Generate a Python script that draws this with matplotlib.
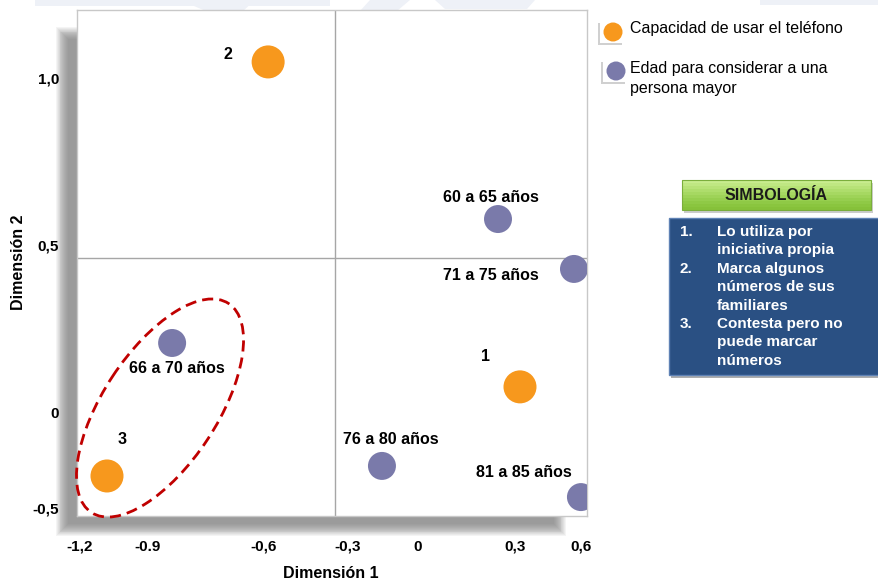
import matplotlib
matplotlib.use("Agg")
import matplotlib.pyplot as plt
from matplotlib.patches import Rectangle, Ellipse, Polygon
from matplotlib.transforms import Affine2D

plt.rcParams['font.family'] = ['Liberation Sans', 'DejaVu Sans']

# ---------------- data ----------------
phone_labels = ["1", "2", "3"]
phone_x = [0.381, -0.524, -1.103]
phone_y = [0.078, 1.048, -0.188]

age_labels = ["60 a 65 años", "71 a 75 años", "66 a 70 años", "76 a 80 años", "81 a 85 años"]
age_x = [0.302, 0.575, -0.869, -0.115, 0.600]
age_y = [0.579, 0.430, 0.209, -0.158, -0.251]

xtick_labels = ["-1,2", "-0.9", "-0,6", "-0,3", "0", "0,3", "0,6"]
xtick_vals = [-1.2, -0.956, -0.539, -0.237, 0.014, 0.363, 0.600]
ytick_labels = ["1,0", "0,5", "0", "-0,5"]
ytick_vals = [1.0, 0.501, 0.0, -0.284]

cross_x = -0.284
cross_y = 0.463

legend_labels = ["Capacidad de usar el teléfono", "Edad para considerar a una\npersona mayor"]
simb_items = [("1.", "Lo utiliza por\niniciativa propia"),
              ("2.", "Marca algunos\nnúmeros de sus\nfamiliares"),
              ("3.", "Contesta pero no\npuede marcar\nnúmeros")]

ORANGE = "#F7981D"
PURPLE = "#7A7AAA"

W, H = 879, 583
fig = plt.figure(figsize=(W / 100, H / 100), dpi=100)
fig.patch.set_facecolor("white")

def fx(px):
    return px / W

def fy(py):
    return 1 - py / H

# pixel (top-left origin) -> figure transform
pix = Affine2D().scale(1.0 / W, -1.0 / H).translate(0, 1) + fig.transFigure

# faint watermark at top
wm = "#EEF1F7"
for pts in [[(35, 0), (330, 0), (330, 6), (35, 6)],
            [(180, 0), (255, 0), (242, 12), (208, 12)],
            [(370, 0), (410, 0), (397, 11), (360, 11)],
            [(435, 0), (535, 0), (527, 9), (445, 9)],
            [(760, 0), (879, 0), (879, 5), (760, 5)]]:
    fig.patches.append(Polygon(pts, closed=True, transform=pix, facecolor=wm,
                               edgecolor="none", zorder=-3))

# shadow of the plot box
n = 14
for i in range(n):
    d = i * 0.9
    fig.patches.append(Rectangle((56 + d, 27 + d), (566 - 56) - 2 * d, (536 - 27) - 2 * d,
                                 transform=pix, facecolor="#6e6e6e", alpha=0.075,
                                 edgecolor="none", zorder=-2))

# axes
ax = fig.add_axes([fx(77), fy(516), (587 - 77) / W, (516 - 10) / H])
ax.set_facecolor("white")
ax.set_zorder(0)
ax.set_xlim(-1.2 + (77 - 80) / 278.3, -1.2 + (587 - 80) / 278.3)
ax.set_ylim((413 - 516) / 335, (413 - 10) / 335)
for s in ax.spines.values():
    s.set_color("#C8C8C8")
    s.set_linewidth(1.0)

ax.axvline(cross_x, color="#A6A6A6", lw=1.0, zorder=1)
ax.axhline(cross_y, color="#A6A6A6", lw=1.0, zorder=1)

ax.scatter(phone_x, phone_y, s=565, color=ORANGE, edgecolors="none", zorder=3)
ax.scatter(age_x, age_y, s=406, color=PURPLE, edgecolors="none", zorder=3)

phone_off = [(-34, 30), (-40, 7), (15, 36)]
age_off = [(-7, 22), (-83, -7), (5, -26), (9, 26), (-57, 25)]
for lab, x, y, off in zip(phone_labels, phone_x, phone_y, phone_off):
    ax.annotate(lab, (x, y), xytext=off, textcoords="offset pixels", ha="center",
                va="center", fontsize=11.5, fontweight="bold", zorder=4)
for lab, x, y, off in zip(age_labels, age_x, age_y, age_off):
    ax.annotate(lab, (x, y), xytext=off, textcoords="offset pixels", ha="center",
                va="center", fontsize=11.5, fontweight="bold", zorder=4)

ax.set_xticks(xtick_vals)
ax.set_xticklabels(xtick_labels, fontsize=11, fontweight="bold")
ax.set_yticks(ytick_vals)
ax.set_yticklabels(ytick_labels, fontsize=11, fontweight="bold")
ax.tick_params(axis="x", length=0, pad=17)
ax.tick_params(axis="y", length=0, pad=13)

fig.text(fx(331), fy(574), "Dimensión 1", ha="center", va="center",
         fontsize=11.5, fontweight="bold")
fig.text(fx(19), fy(262), "Dimensión 2", ha="center", va="center",
         fontsize=11.5, fontweight="bold", rotation=90)

# dashed red ellipse
fig.patches.append(Ellipse((160, 408), 250, 114, angle=-56.7, transform=pix,
                           facecolor="none", edgecolor="#C00000", lw=2.0,
                           linestyle=(0, (4, 2.2)), zorder=5))

# legend
leg_pos = [(613, 32), (616, 71)]
leg_cols = [ORANGE, PURPLE]
for (cx, cy), col in zip(leg_pos, leg_cols):
    fig.patches.append(Rectangle((cx - 15, cy - 9), 24, 22, transform=pix,
                                 facecolor="#d0d0d0", edgecolor="none", zorder=1))
    fig.patches.append(Rectangle((cx - 13, cy - 11), 24, 22, transform=pix,
                                 facecolor="white", edgecolor="none", zorder=1))
    fig.patches.append(Ellipse((cx, cy), 19, 19, transform=pix, facecolor=col,
                               edgecolor="none", zorder=2))
fig.text(fx(630), fy(29), legend_labels[0], ha="left", va="center", fontsize=11.5)
for k, line in enumerate(legend_labels[1].split("\n")):
    fig.text(fx(630), fy(69 + k * 19), line, ha="left", va="center", fontsize=11.5)

# SIMBOLOGIA box
fig.patches.append(Rectangle((684, 183), 189, 30, transform=pix, facecolor="#9a9a9a",
                             alpha=0.5, edgecolor="none", zorder=1))
greens = ["#C8EC8E", "#BFE782", "#B7E277", "#AEDD6C", "#A6D862",
          "#9ED358", "#96CE4F", "#8FC946", "#8AC53F", "#86C13A"]
for i, g in enumerate(greens):
    fig.patches.append(Rectangle((682, 180 + i * 3), 189, 3.2, transform=pix,
                                 facecolor=g, edgecolor="none", zorder=2))
fig.patches.append(Rectangle((682, 180), 189, 30, transform=pix, facecolor="none",
                             edgecolor="#7BAE3C", lw=0.8, zorder=3))
fig.text(fx(776), fy(195.5), "SIMBOLOGÍA", ha="center", va="center", fontsize=11.5,
         fontweight="bold", color="#1a1a1a")

# blue box
fig.patches.append(Rectangle((671, 221), 215, 157, transform=pix, facecolor="#6a6a6a",
                             alpha=0.55, edgecolor="none", zorder=1))
fig.patches.append(Rectangle((669, 218), 215, 157, transform=pix, facecolor="#2A5083",
                             edgecolor="#5F82B5", lw=1.0, zorder=2))
line_h = 18.4
yline = 232
for num, txt in simb_items:
    fig.text(fx(680), fy(yline), num, ha="left", va="center", fontsize=11,
             fontweight="bold", color="white", zorder=4)
    for k, line in enumerate(txt.split("\n")):
        fig.text(fx(717), fy(yline + k * line_h), line, ha="left", va="center",
                 fontsize=11, fontweight="bold", color="white", zorder=4)
    yline += len(txt.split("\n")) * line_h

fig.savefig("out.png", dpi=100, facecolor="white")
